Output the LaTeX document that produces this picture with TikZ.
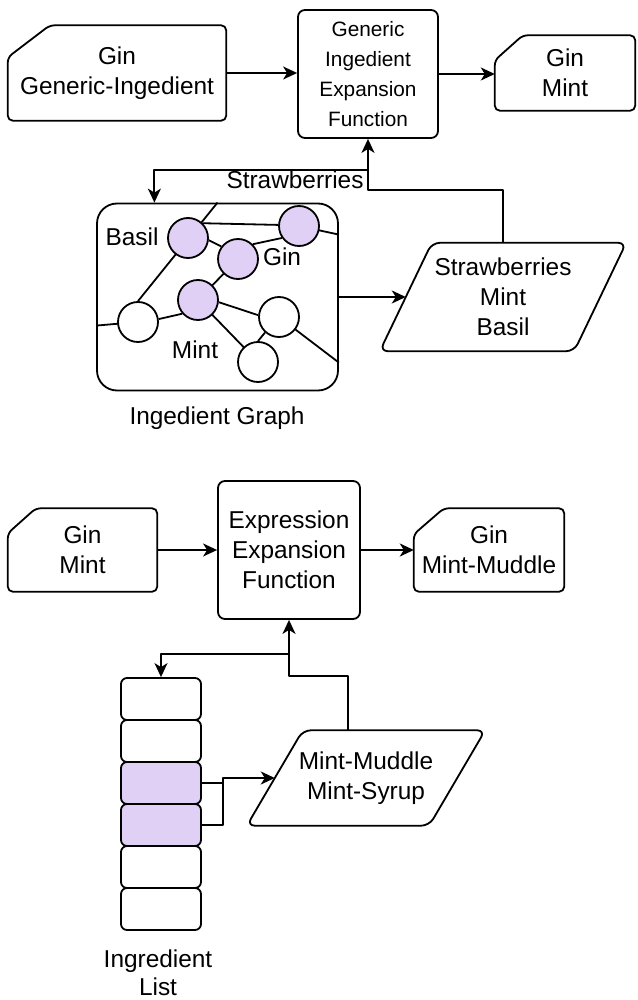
\documentclass[tikz,border=0pt]{standalone}
\usepackage{fontspec}
\setmainfont{Liberation Sans}
\usetikzlibrary{calc,arrows.meta}
\pgfdeclarelayer{back}
\pgfdeclarelayer{edges}
\pgfsetlayers{back,edges,main}

\definecolor{lilac}{HTML}{E1D0F5}

\tikzset{
  base/.style={line width=1.8pt, line join=round},
  arr/.style={base, -{Stealth[length=14pt,width=13pt,inset=4pt]}},
  txt/.style={font=\fontsize{24.4}{30}\selectfont, align=center, inner sep=0pt},
  smalltxt/.style={font=\fontsize{20.8}{30}\selectfont, align=center, inner sep=0pt},
  holder/.style={draw=none, inner sep=0pt},
  procbox/.style={base, draw, fill=white, rounded corners=7pt, inner sep=0pt},
  vertex/.style={base, draw, circle, fill=white, minimum size=40pt, inner sep=0pt},
  hot/.style={fill=lilac},
  cell/.style={base, draw, fill=white, rounded corners=6pt, minimum width=80pt, minimum height=42pt, inner sep=0pt},
}

% card outline with a cut top-left corner
\newcommand\cardoutline[3]{%
  \draw[base, rounded corners=5pt] ($(#1.north west)+(0,#3)$) -- ($(#1.north west)+(#2,0)$)
    -- (#1.north east) -- (#1.south east) -- (#1.south west) -- cycle;}
% slanted data outline around a holder node
\newcommand\slantoutline[2]{%
  \draw[base, rounded corners=8pt] ($(#1.north west)+(#2,0)$) -- ($(#1.north east)+(#2,0)$)
    -- ($(#1.south east)+(-#2,0)$) -- ($(#1.south west)+(-#2,0)$) -- cycle;}

\begin{document}
\begin{tikzpicture}[x=1pt,y=-1pt]
\begin{pgfonlayer}{back}
  \fill[white] (0,0) rectangle (637,1000);
\end{pgfonlayer}
\useasboundingbox (0,0) rectangle (637,1000);

% ---------- generic ingredient expansion ----------
\node[txt, holder, minimum width=218pt, minimum height=95pt] (in1) at (117,73) {Gin\\Generic-Ingedient};
\cardoutline{in1}{42}{32}
\node[procbox, smalltxt, minimum width=140pt, minimum height=128pt] (gief) at (368,74) {Generic\\Ingedient\\Expansion\\Function};
\node[txt, holder, minimum width=140pt, minimum height=75pt] (out1) at (565,73) {Gin\\Mint};
\cardoutline{out1}{28}{25}

\draw[arr] (in1.east) -- (in1.east -| gief.west);
\draw[arr] (gief.east) -- (gief.east -| out1.west);

% ingredient graph
\node[base, draw, rounded corners=20pt, minimum width=241pt, minimum height=187pt, inner sep=0pt] (graph) at (217.5,297) {};
\node[vertex, hot] (basil) at (188,238) {};
\node[vertex, hot] (tr) at (299,226) {};
\node[vertex, hot] (gin) at (238,259) {};
\node[vertex, hot] (mint) at (198,300) {};
\node[vertex] (wl) at (138,322) {};
\node[vertex] (wr) at (279,317) {};
\node[vertex] (wb) at (258,362) {};
\begin{pgfonlayer}{edges}
  \draw[base] (graph.north) -- (wl.north);
  \draw[base] (basil.45) -- (tr.177);
  \draw[base] (tr.center) -- ($(graph.north east)+(0,32)$);
  \draw[base] (basil.-6) -- (gin.143);
  \draw[base] (gin.45) -- (tr.215);
  \draw[base] (gin.center) -- (mint.center);
  \draw[base] (mint.221) -- (wl.8);
  \draw[base] (wl.center) -- ($(graph.north west)+(0,123)$);
  \draw[base] (mint.-6) -- (wr.175);
  \draw[base] (mint.center) -- (wb.center);
  \draw[base] (wr.228) -- (wb.90);
  \draw[base] (wr.center) -- ($(graph.north east)+(0,160)$);
\end{pgfonlayer}
\node[txt] (lbasil) at (132,237) {Basil};
\node[txt] (lgin) at (282,257) {Gin};
\node[txt] (lmint) at (195,350) {Mint};
\node[txt] (gcap) at (217,418) {Ingedient Graph};

\node[txt, holder, minimum width=194pt, minimum height=108pt] (sel1) at (503,297) {Strawberries\\Mint\\Basil};
\slantoutline{sel1}{26}
\draw[arr] (graph.east) -- (sel1.west);

\coordinate (j1) at (368,190);
\coordinate (j2) at (368,170);
\draw[arr] (sel1.north) |- (j1) -- (gief.south);
\draw[arr] (j2) -| ($(graph.north west)!0.24!(graph.north east)$);
\node[txt] (lstraw) at (295,180) {Strawberries};

% ---------- expression expansion ----------
\node[txt, holder, minimum width=149pt, minimum height=83pt] (in2) at (82.5,550) {Gin\\Mint};
\cardoutline{in2}{28}{25}
\node[procbox, txt, minimum width=142pt, minimum height=138pt] (eef) at (289,550) {Expression\\Expansion\\Function};
\node[txt, holder, minimum width=150pt, minimum height=83pt] (out2) at (489,550) {Gin\\Mint-Muddle};
\cardoutline{out2}{30}{26}

\draw[arr] (in2.east) -- (in2.east -| eef.west);
\draw[arr] (eef.east) -- (eef.east -| out2.west);

% ingredient list
\node[cell] (l1) at (161,699) {};
\node[cell] (l2) at (161,741) {};
\node[cell, hot] (l3) at (161,783) {};
\node[cell, hot] (l4) at (161,825) {};
\node[cell] (l5) at (161,867) {};
\node[cell] (l6) at (161,909) {};
\node[txt, font=\fontsize{24.4}{28}\selectfont] (lcap) at (158,973) {Ingredient\\List};

\node[txt, holder, minimum width=182pt, minimum height=95pt] (sel2) at (366,778) {Mint-Muddle\\Mint-Syrup};
\slantoutline{sel2}{28}

\coordinate (k1) at (289,676);
\coordinate (k2) at (289,654);
\coordinate (k3) at (223,778);
\draw[arr] ($(sel2.north west)+(73,0)$) |- (k1) -- (eef.south);
\draw[arr] (k2) -| (l1.north);
\draw[arr] (l4.east) -| (k3) -- (sel2.west);
\draw[base] (l3.east) -- (l3.east -| k3);
\end{tikzpicture}
\end{document}
